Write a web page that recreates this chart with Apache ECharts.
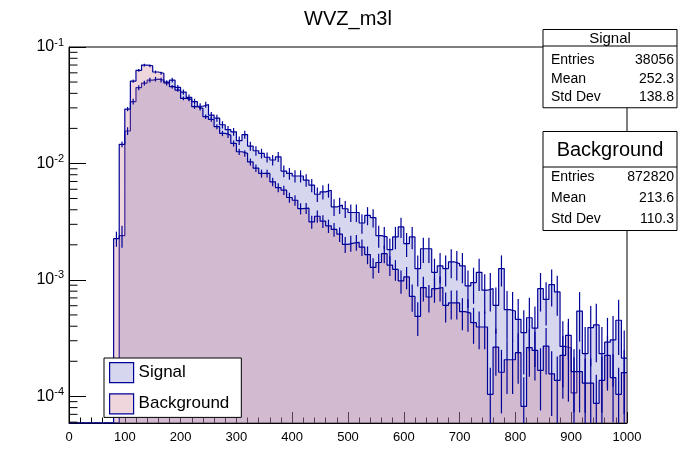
<!DOCTYPE html>
<html>
<head>
    <meta charset="utf-8">
    <title>WVZ_m3l</title>
    <style>
        html,body{ margin:0; padding:0; background:#fff; }
        #main{ width:696px; height:472px; }
    </style>
</head>
<body>
    <div id="main"></div>
    <script src="https://cdn.jsdelivr.net/npm/echarts@6/dist/echarts.min.js"></script>
    <script>
        // 100 bins of 10 GeV from 0 to 1000, normalised contents
        var BIN_W = 10;
        var signal = [
            0, 0, 0, 0, 0, 0, 0, 0, 0, 0.0024,
            0.019, 0.034, 0.0447, 0.049, 0.052, 0.053, 0.052, 0.049, 0.052, 0.045,
            0.041, 0.037, 0.034, 0.031, 0.032, 0.026, 0.0245, 0.0215, 0.0195, 0.0187,
            0.0157, 0.0177, 0.0141, 0.01285, 0.0122, 0.0113, 0.0107, 0.0114, 0.0086, 0.0082,
            0.0078, 0.0078, 0.0072, 0.0065, 0.00544, 0.0057, 0.00589, 0.00423, 0.00438, 0.00408,
            0.00379, 0.00379, 0.00308, 0.00358, 0.00343, 0.0024, 0.00234, 0.00182, 0.00234, 0.00285,
            0.00205, 0.00234, 0.00125, 0.00185, 0.00185, 0.00116, 0.00132, 0.00125, 0.00143, 0.00138,
            0.00132, 0.000887, 0.000948, 0.00116, 0.000815, 0.000842, 0.000603, 0.00125, 0.000556, 0.00054,
            0.000458, 0.000352, 0.000473, 0.000385, 0.00084, 0.00068, 0.00091, 0.000788, 0.000268, 0.00026,
            0.000107, 0.00054, 0.000233, 0.000389, 0.00041, 0.000233, 0.000292, 0.000305, 0.00045, 0.000213
        ];
        var background = [
            0, 0, 0, 0, 0, 0, 0, 0, 0.00226, 0.0146,
            0.0293, 0.051, 0.063, 0.070, 0.069, 0.061, 0.0595, 0.050, 0.0456, 0.0427,
            0.0362, 0.0355, 0.0307, 0.0297, 0.0252, 0.0239, 0.0207, 0.0181, 0.0175, 0.01485,
            0.0126, 0.0122, 0.0103, 0.0091, 0.0082, 0.0082, 0.00695, 0.0062, 0.0059, 0.0051,
            0.00483, 0.0041, 0.00413, 0.00315, 0.00352, 0.00319, 0.00291, 0.00271, 0.00247, 0.00202,
            0.00207, 0.0021, 0.00191, 0.00165, 0.00128, 0.00141, 0.00168, 0.00134, 0.00123, 0.00098,
            0.00106, 0.000723, 0.000486, 0.000859, 0.000713, 0.00084, 0.00086, 0.000605, 0.000634, 0.000634,
            0.000533, 0.000519, 0.000429, 0.000394, 0.000394, 0.000104, 0.000265, 0.000161, 0.000206, 0.000206,
            0.000237, 0.000082, 0.000262, 0.000248, 0.000167, 0.00027, 0.000156, 0.000137, 0.000225, 0.000334,
            0.000163, 0.000163, 0.00013, 0.00013, 0.000087, 0.000137, 0.000225, 0.000145, 0.000104, 0.00016
        ];
        // effective (weighted) entries, used for the sqrt(N) error bars
        var SIG_NEFF = 9000;
        var BKG_NEFF = 20000;

        var statSignal = [['Entries', '38056'], ['Mean', '252.3'], ['Std Dev', '138.8']];
        var statBackground = [['Entries', '872820'], ['Mean', '213.6'], ['Std Dev', '110.3']];

        var Y_MIN = 5.9e-5, Y_MAX = 0.1;
        var LINE_COLOR = '#000099';
        var SIG_FILL = 'rgba(120,120,200,0.3)';
        var BKG_FILL = 'rgba(200,120,140,0.3)';
        var FONT = '"Liberation Sans", Arial, Helvetica, sans-serif';

        // log axis minor ticks at 2..9 x 10^n
        var yMinorTicks = [];
        for (var d = -5; d <= -2; d++) {
            for (var m = 2; m <= 9; m++) {
                var t = m * Math.pow(10, d);
                if (t > Y_MIN && t < Y_MAX) yMinorTicks.push([0, t]);
            }
        }

        function histLine(name, vals, fill, z) {
            var pts = vals.map(function (v, i) { return [i * BIN_W, v > 0 ? v : Y_MIN]; });
            pts.push([vals.length * BIN_W, pts[pts.length - 1][1]]);
            return {
                type: 'line', name: name, data: pts, step: 'end', symbol: 'none', z: z,
                lineStyle: { color: LINE_COLOR, width: 1.2 },
                itemStyle: { color: LINE_COLOR },
                areaStyle: { color: fill, origin: 'start', opacity: 1 }
            };
        }

        function errorBars(vals, neff) {
            var data = [];
            vals.forEach(function (v, i) {
                if (v > 0) data.push([i * BIN_W + BIN_W / 2, v, Math.sqrt(v / neff)]);
            });
            return {
                type: 'custom', silent: true, z: 5, data: data,
                encode: { x: 0, y: 1 },
                renderItem: function (params, api) {
                    var x = api.value(0), v = api.value(1), e = api.value(2);
                    var p1 = api.coord([x, Math.max(v - e, Y_MIN)]);
                    var p2 = api.coord([x, Math.min(v + e, Y_MAX)]);
                    return {
                        type: 'line',
                        shape: { x1: p1[0], y1: p1[1], x2: p2[0], y2: p2[1] },
                        style: { stroke: LINE_COLOR, lineWidth: 1.2 }
                    };
                }
            };
        }

        function statBox(x, y, w, titleText, titleSize, titleH, rows, rowYs) {
            var els = [
                { type: 'rect', shape: { x: x, y: y, width: w, height: rowYs[rowYs.length - 1] + (rowYs[1] - rowYs[0]) / 2 + 1 - y },
                  style: { fill: '#fff', stroke: '#000', lineWidth: 1 } },
                { type: 'line', shape: { x1: x, y1: y + titleH, x2: x + w, y2: y + titleH },
                  style: { stroke: '#000', lineWidth: 1 } },
                { type: 'text', x: x + w / 2, y: y + titleH / 2 + 1,
                  style: { text: titleText, font: titleSize + 'px ' + FONT, fill: '#000', align: 'center', verticalAlign: 'middle' } }
            ];
            rows.forEach(function (r, i) {
                els.push({ type: 'text', x: x + 8, y: rowYs[i],
                    style: { text: r[0], font: '14px ' + FONT, fill: '#000', align: 'left', verticalAlign: 'middle' } });
                els.push({ type: 'text', x: x + w - 3, y: rowYs[i],
                    style: { text: r[1], font: '14px ' + FONT, fill: '#000', align: 'right', verticalAlign: 'middle' } });
            });
            return { type: 'group', z: 100, children: els };
        }

        var chart = echarts.init(document.getElementById('main'));
        chart.setOption({
            animation: false,
            textStyle: { fontFamily: FONT },
            title: {
                text: 'WVZ_m3l', left: 'center', top: 4,
                textStyle: { fontSize: 20, fontWeight: 'normal', color: '#000', fontFamily: FONT }
            },
            grid: { left: 69, right: 69, top: 47, bottom: 49, show: true, borderColor: '#000', borderWidth: 1 },
            legend: {
                left: 104, top: 358, orient: 'vertical',
                itemWidth: 24, itemHeight: 20, itemGap: 10,
                padding: [4, 12, 3, 5],
                backgroundColor: '#fff', borderColor: '#000', borderWidth: 1,
                textStyle: { fontSize: 17, color: '#000', fontFamily: FONT },
                data: [
                    { name: 'Signal', icon: 'rect', itemStyle: { color: SIG_FILL, borderColor: LINE_COLOR, borderWidth: 1.2 } },
                    { name: 'Background', icon: 'rect', itemStyle: { color: BKG_FILL, borderColor: LINE_COLOR, borderWidth: 1.2 } }
                ]
            },
            xAxis: {
                type: 'value', min: 0, max: 1000, interval: 100,
                axisLine: { lineStyle: { color: '#000', width: 1 } },
                axisTick: { inside: true, length: 11, lineStyle: { color: '#000' } },
                minorTick: { show: true, splitNumber: 5, length: 5.5, lineStyle: { color: '#000' } },
                splitLine: { show: false },
                axisLabel: {
                    color: '#000', fontSize: 13, margin: 8, fontFamily: FONT,
                    formatter: function (v) { return String(v); }
                }
            },
            yAxis: {
                type: 'log', logBase: 10, min: Y_MIN, max: Y_MAX,
                axisLine: { show: true, lineStyle: { color: '#000', width: 1 } },
                axisTick: { inside: true, length: 17, lineStyle: { color: '#000' } },
                splitLine: { show: false },
                axisLabel: {
                    showMinLabel: false, margin: 5,
                    formatter: function (v) {
                        return '{b|10}{s|' + Math.round(Math.log10(v)) + '}';
                    },
                    rich: {
                        b: { fontSize: 16, color: '#000', fontFamily: FONT },
                        s: { fontSize: 11, color: '#000', fontFamily: FONT, padding: [0, 0, 9, 0] }
                    }
                }
            },
            graphic: [
                statBox(543, 29.5, 134, 'Signal', 15, 16.5, statSignal, [60, 79.5, 97]),
                statBox(543, 131.5, 134, 'Background', 20, 35.5, statBackground, [177, 198, 219])
            ],
            series: [
                histLine('Signal', signal, SIG_FILL, 2),
                histLine('Background', background, BKG_FILL, 3),
                errorBars(signal, SIG_NEFF),
                errorBars(background, BKG_NEFF),
                {
                    type: 'custom', silent: true, z: 6, data: yMinorTicks,
                    encode: { x: 0, y: 1 },
                    renderItem: function (params, api) {
                        var p = api.coord([api.value(0), api.value(1)]);
                        return {
                            type: 'line',
                            shape: { x1: p[0], y1: p[1], x2: p[0] + 8.5, y2: p[1] },
                            style: { stroke: '#000', lineWidth: 1 }
                        };
                    }
                }
            ]
        });
    </script>
</body>
</html>
